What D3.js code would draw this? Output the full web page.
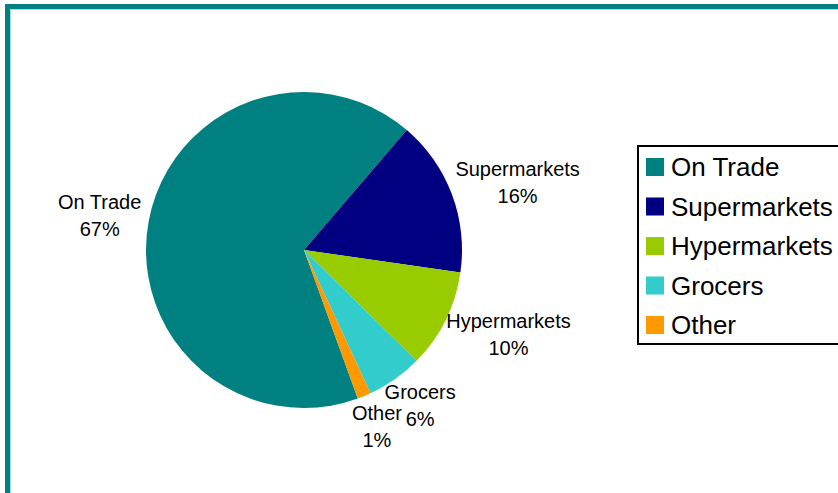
<!DOCTYPE html>
<html>
<head>
<meta charset="utf-8">
<script src="https://cdn.jsdelivr.net/npm/d3@7"></script>
<style>
  body { margin: 0; background: #fff; }
  svg { display: block; font-family: "Liberation Sans", Arial, sans-serif; }
</style>
</head>
<body>
<svg id="chart" width="838" height="493"></svg>
<script>
// data
var categories = ["On Trade", "Supermarkets", "Hypermarkets", "Grocers", "Other"];
var shares = [66.8, 16.0, 10.1, 5.7, 1.4];
var labels = ["67%", "16%", "10%", "6%", "1%"];
var colors = ["#008080", "#000080", "#99cc00", "#33cccc", "#ff9900"];

var svg = d3.select("#chart"),
  width = +svg.attr("width"),
  height = +svg.attr("height");

// teal frame (runs off the right and bottom edges)
svg.append("rect")
  .attr("x", 7.5).attr("y", 6.5)
  .attr("width", width + 20).attr("height", height + 20)
  .attr("fill", "none")
  .attr("stroke", "#008080")
  .attr("stroke-width", 5);
svg.append("rect")
  .attr("x", 10.5).attr("y", 9.5)
  .attr("width", width + 20).attr("height", height + 20)
  .attr("fill", "none")
  .attr("stroke", "#9fdcdc")
  .attr("stroke-width", 1);

var cx = 304, cy = 250, radius = 158;

var data = categories.map(function(c, i) {
  return { name: c, value: shares[i], label: labels[i], color: colors[i] };
});

// first slice begins a bit past 6 o'clock, clockwise
var start = 160.1 * Math.PI / 180;
var pie = d3.pie()
  .sort(null)
  .value(function(d) { return d.value; })
  .startAngle(start)
  .endAngle(start + 2 * Math.PI);

var arc = d3.arc().innerRadius(0).outerRadius(radius);

var g = svg.append("g").attr("transform", "translate(" + cx + "," + cy + ")");
var arcs = pie(data);

g.selectAll("path")
  .data(arcs)
  .enter()
  .append("path")
  .attr("d", arc)
  .attr("fill", function(d) { return d.data.color; });

// labels: anchor just outside the rim, text box pushed outward from it
var lineH = 27, gap = 8;
var lab = g.selectAll("g.lab")
  .data(arcs)
  .enter()
  .append("g")
  .attr("class", "lab");

lab.append("text")
  .attr("text-anchor", "middle")
  .attr("font-size", 20)
  .attr("fill", "#000")
  .selectAll("tspan")
  .data(function(d) { return [d.data.name, d.data.label]; })
  .enter()
  .append("tspan")
  .attr("x", 0)
  .attr("y", function(t, i) { return i * lineH; })
  .text(function(t) { return t; });

lab.attr("transform", function(d) {
  var bb = this.getBBox();
  var a = (d.startAngle + d.endAngle) / 2;
  var s = Math.sin(a), c = Math.cos(a);
  var ax = s * (radius + gap), ay = -c * (radius + gap);
  var x = ax + s * bb.width / 2;
  var y = ay - c * bb.height / 2;
  var oy = bb.y + bb.height / 2;
  return "translate(" + x + "," + (y - oy) + ")";
});

// legend
var lx = 638, ly = 146, rowH = 39.5;
svg.append("rect")
  .attr("x", lx).attr("y", ly)
  .attr("width", 220).attr("height", 198)
  .attr("fill", "#fff")
  .attr("stroke", "#000")
  .attr("stroke-width", 2);

var item = svg.selectAll("g.leg")
  .data(data)
  .enter()
  .append("g")
  .attr("class", "leg")
  .attr("transform", function(d, i) { return "translate(" + (lx + 8) + "," + (ly + 12 + i * rowH) + ")"; });

item.append("rect")
  .attr("width", 18).attr("height", 18)
  .attr("fill", function(d) { return d.color; });

item.append("text")
  .attr("x", 25)
  .attr("y", 18)
  .attr("font-size", 26)
  .attr("fill", "#000")
  .text(function(d) { return d.name; });
</script>
</body>
</html>
